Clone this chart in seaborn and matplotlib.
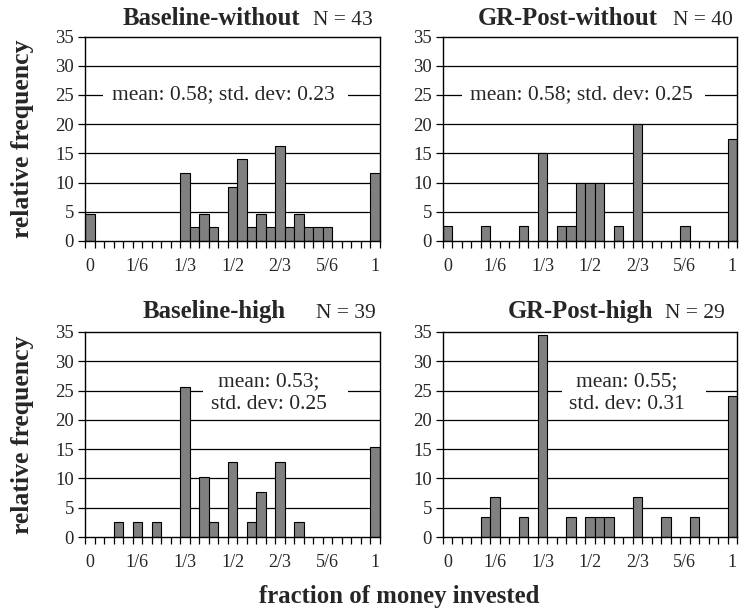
import matplotlib
matplotlib.use("Agg")
import matplotlib.pyplot as plt
from matplotlib.patches import Rectangle
import numpy as np
import pandas as pd
import seaborn as sns

sns.set_style("ticks")
plt.rcParams['font.family'] = ['Liberation Serif', 'DejaVu Serif']

titles = ["Baseline-without", "GR-Post-without", "Baseline-high", "GR-Post-high"]
n_obs = [43, 40, 39, 29]
stats_text = ["mean: 0.58; std. dev: 0.23",
              "mean: 0.58; std. dev: 0.25",
              "mean: 0.53;\nstd. dev: 0.25",
              "mean: 0.55;\nstd. dev: 0.31"]

bins_bw = [0, 10, 11, 12, 13, 15, 16, 17, 18, 19, 20, 21, 22, 23, 24, 25, 30]
counts_bw = [2, 5, 1, 2, 1, 4, 6, 1, 2, 1, 7, 1, 2, 1, 1, 1, 5]

bins_gw = [0, 4, 8, 10, 12, 13, 14, 15, 16, 18, 20, 25, 30]
counts_gw = [1, 1, 1, 6, 1, 1, 4, 4, 4, 1, 8, 1, 7]

bins_bh = [3, 5, 7, 10, 12, 13, 15, 17, 18, 20, 22, 30]
counts_bh = [1, 1, 1, 10, 4, 1, 5, 1, 3, 5, 1, 6]

bins_gh = [4, 5, 8, 10, 13, 15, 16, 17, 20, 23, 26, 30]
counts_gh = [1, 2, 1, 10, 1, 1, 1, 1, 2, 1, 1, 7]

all_bins = [bins_bw, bins_gw, bins_bh, bins_gh]
all_counts = [counts_bw, counts_gw, counts_bh, counts_gh]

tick_pos = [0, 5, 10, 15, 20, 25, 30]
tick_labels = ["0", "1/6", "1/3", "1/2", "2/3", "5/6", "1"]
yticks = [0, 5, 10, 15, 20, 25, 30, 35]

W, H = 739, 612
fig = plt.figure(figsize=(W / 100, H / 100), dpi=100)

# axes boxes in pixels: left, top, right, bottom
boxes = [(85, 36.5, 380, 241), (443, 36.5, 737, 241),
         (85, 332, 380, 537), (443, 332, 737, 537)]
# title layout: bold end x, N start x, baseline y (pixels)
title_pos = [(300, 313, 25), (658, 673, 25), (286, 316, 318), (653, 665, 318)]
# stats text centre (axes x fraction, data y)
stats_pos = [(0.468, 25), (0.469, 25), (0.624, 24.6), (0.626, 24.6)]
# white box behind stats: x0, x1 (axes fraction), y0, y1 (data)
stats_box = [(0.061, 0.892, 22, 28), (0.065, 0.891, 22, 28),
             (0.40, 0.892, 20.6, 29.4), (0.405, 0.895, 20.6, 29.4)]

order = list(range(31))
for k in range(4):
    l, t, r, b = boxes[k]
    ax = fig.add_axes([l / W, 1 - b / H, (r - l) / W, (b - t) / H])
    df = pd.DataFrame({"bin": all_bins[k],
                       "freq": np.array(all_counts[k]) / n_obs[k] * 100})
    ax.set_axisbelow(True)
    for yv in yticks[1:-1]:
        ax.axhline(yv, color="black", lw=0.9, zorder=0)
    sns.barplot(data=df, x="bin", y="freq", order=order, ax=ax,
                color="#808080", saturation=1, width=1,
                edgecolor="black", linewidth=0.8, zorder=2)
    ax.set_xlim(-0.5, 30.5)
    ax.set_ylim(0, 35)
    ax.set_yticks(yticks)
    ax.set_xticks(tick_pos)
    ax.set_xticklabels(tick_labels)
    ax.set_xticks(np.arange(-0.5, 31, 1), minor=True)
    ax.tick_params(axis="x", which="major", length=0, pad=12, labelsize=13)
    ax.tick_params(axis="x", which="minor", length=5, width=0.9, direction="out", color="black")
    ax.tick_params(axis="y", length=5, width=0.9, pad=3, labelsize=13.5, color="black")
    ax.set_xlabel("")
    ax.set_ylabel("")
    for s in ax.spines.values():
        s.set_visible(True)
        s.set_color("black")
        s.set_linewidth(1.0)

    x0, x1, y0, y1 = stats_box[k]
    ax.add_patch(Rectangle((x0, y0), x1 - x0, y1 - y0,
                           transform=ax.get_yaxis_transform(),
                           facecolor="white", edgecolor="none", zorder=1))
    sx, sy = stats_pos[k]
    ax.text(sx, sy, stats_text[k], transform=ax.get_yaxis_transform(),
            ha="center", va="center", fontsize=15.5, linespacing=1.25,
            zorder=5)

    be, ns, by = title_pos[k]
    fig.text(be / W, 1 - by / H, titles[k], ha="right", va="baseline",
             fontsize=17.8, fontweight="bold")
    fig.text(ns / W, 1 - by / H, "N = %d" % n_obs[k], ha="left", va="baseline",
             fontsize=15.5)

fig.text(23 / W, 1 - 138.5 / H, "relative frequency", rotation=90,
         ha="center", va="center", fontsize=18.5, fontweight="bold")
fig.text(23 / W, 1 - 434.5 / H, "relative frequency", rotation=90,
         ha="center", va="center", fontsize=18.5, fontweight="bold")
fig.text(399 / W, 1 - 596 / H, "fraction of money invested",
         ha="center", va="center", fontsize=17.8, fontweight="bold")

fig.savefig("out.png", dpi=100)
